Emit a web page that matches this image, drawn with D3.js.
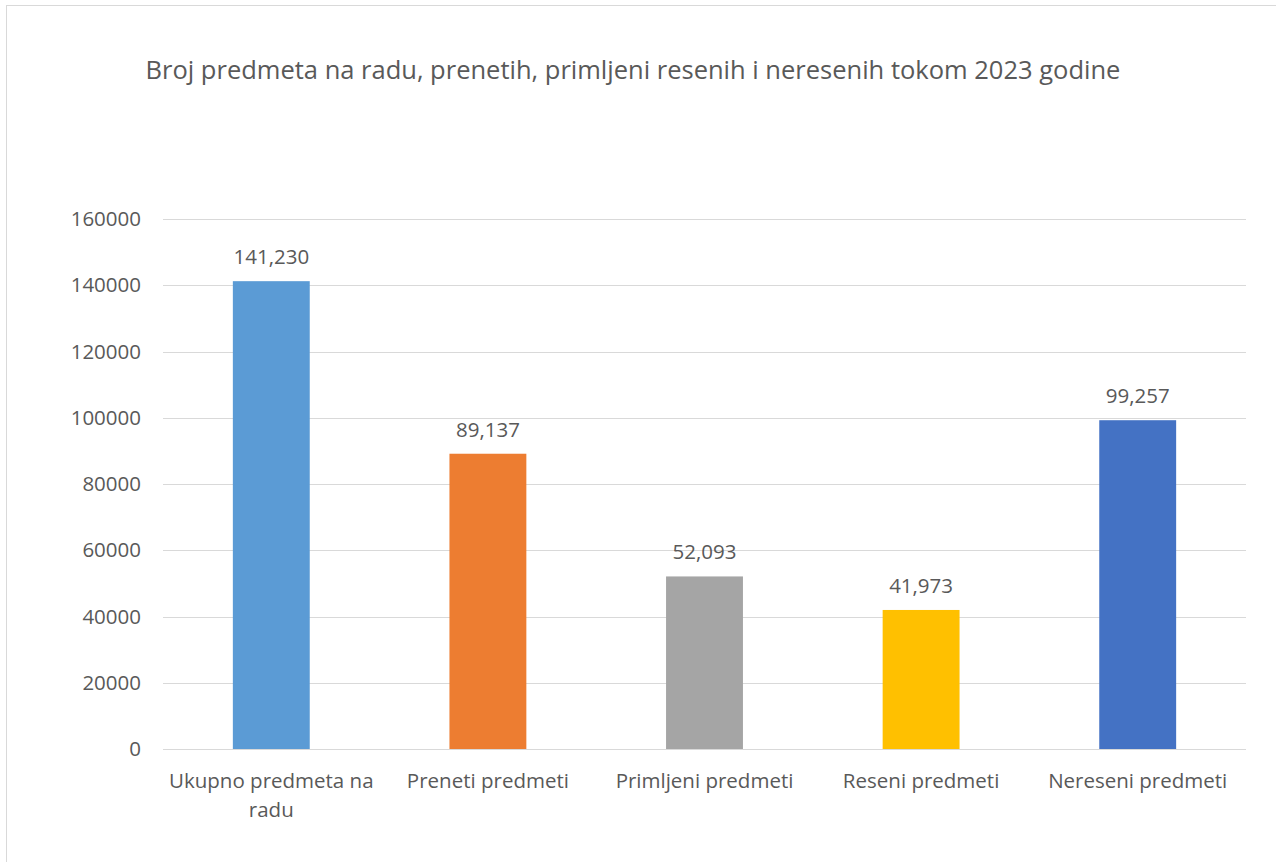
<!DOCTYPE html>
<html>
<head>
<meta charset="utf-8">
<script src="https://cdn.jsdelivr.net/npm/d3@7"></script>
<style>
  body { margin: 0; background: #fff; }
  text { font-family: "Open Sans", sans-serif; fill: #595959; }
</style>
</head>
<body>
<div id="chart"></div>
<script>
// Data
const categories = ["Ukupno predmeta na radu", "Preneti predmeti", "Primljeni predmeti", "Reseni predmeti", "Nereseni predmeti"];
const values = [141230, 89137, 52093, 41973, 99257];
const colors = ["#5b9bd5", "#ed7d31", "#a5a5a5", "#ffc000", "#4472c4"];
const yTicks = [0, 20000, 40000, 60000, 80000, 100000, 120000, 140000, 160000];
const title = "Broj predmeta na radu, prenetih, primljeni resenih i neresenih tokom 2023 godine";

const W = 1276, H = 862;
const margin = {top: 219, right: 30, bottom: 113, left: 163},
    width = W - margin.left - margin.right,
    height = H - margin.top - margin.bottom;

const svgRoot = d3.select("#chart")
    .append("svg")
        .attr("width", W)
        .attr("height", H);

// chart frame (only left and top edges show)
svgRoot.append("rect")
    .attr("x", 6.5)
    .attr("y", 5.5)
    .attr("width", W + 20)
    .attr("height", H + 20)
    .attr("fill", "none")
    .attr("stroke", "#d9d9d9")
    .attr("stroke-width", 1);

// Title
svgRoot.append("text")
    .attr("x", 633)
    .attr("y", 79)
    .style("text-anchor", "middle")
    .style("font-size", "25.5px")
    .text(title);

const svg = svgRoot.append("g")
    .attr("transform", "translate(" + margin.left + "," + margin.top + ")");

// Scales
const x = d3.scaleBand()
    .domain(categories)
    .range([0, width])
    .paddingInner(0.645)
    .paddingOuter(0.3225);

const y = d3.scaleLinear()
    .domain([0, 160000])
    .range([height, 0]);

// Gridlines
svg.append("g")
    .selectAll("line")
    .data(yTicks)
    .join("line")
        .attr("x1", 0)
        .attr("x2", width)
        .attr("y1", d => Math.round(y(d)) + 0.5)
        .attr("y2", d => Math.round(y(d)) + 0.5)
        .attr("stroke", "#d9d9d9")
        .attr("stroke-width", 1);

// Y axis
const yAxis = svg.append("g")
    .call(d3.axisLeft(y).tickValues(yTicks).tickSize(0).tickPadding(22).tickFormat(d3.format("d")));
yAxis.select(".domain").remove();
yAxis.selectAll("text")
    .style("font-size", "20.5px")
    .style("font-family", "'Open Sans', sans-serif")
    .attr("fill", "#595959");

// Bars
svg.selectAll(".bar")
    .data(values)
    .join("rect")
        .attr("class", "bar")
        .attr("x", (d, i) => x(categories[i]))
        .attr("y", d => y(d))
        .attr("width", x.bandwidth())
        .attr("height", d => height - y(d))
        .attr("fill", (d, i) => colors[i]);

// Baseline over bars
svg.append("line")
    .attr("x1", 0)
    .attr("x2", width)
    .attr("y1", Math.round(y(0)) + 0.5)
    .attr("y2", Math.round(y(0)) + 0.5)
    .attr("stroke", "#d9d9d9");

// Value labels
svg.selectAll(".label")
    .data(values)
    .join("text")
        .attr("class", "label")
        .attr("x", (d, i) => x(categories[i]) + x.bandwidth() / 2)
        .attr("y", d => y(d) - 17)
        .style("text-anchor", "middle")
        .style("font-size", "20.5px")
        .text(d => d3.format(",")(d));

// Category labels (wrapped like the original)
const catLines = [["Ukupno predmeta na", "radu"], ["Preneti predmeti"], ["Primljeni predmeti"], ["Reseni predmeti"], ["Nereseni predmeti"]];
categories.forEach(function(c, i) {
    const t = svg.append("text")
        .attr("x", x(c) + x.bandwidth() / 2)
        .attr("y", height + 39)
        .style("text-anchor", "middle")
        .style("font-size", "20.5px");
    catLines[i].forEach(function(line, j) {
        t.append("tspan")
            .attr("x", x(c) + x.bandwidth() / 2)
            .attr("dy", j === 0 ? 0 : 29)
            .text(line);
    });
});
</script>
</body>
</html>
